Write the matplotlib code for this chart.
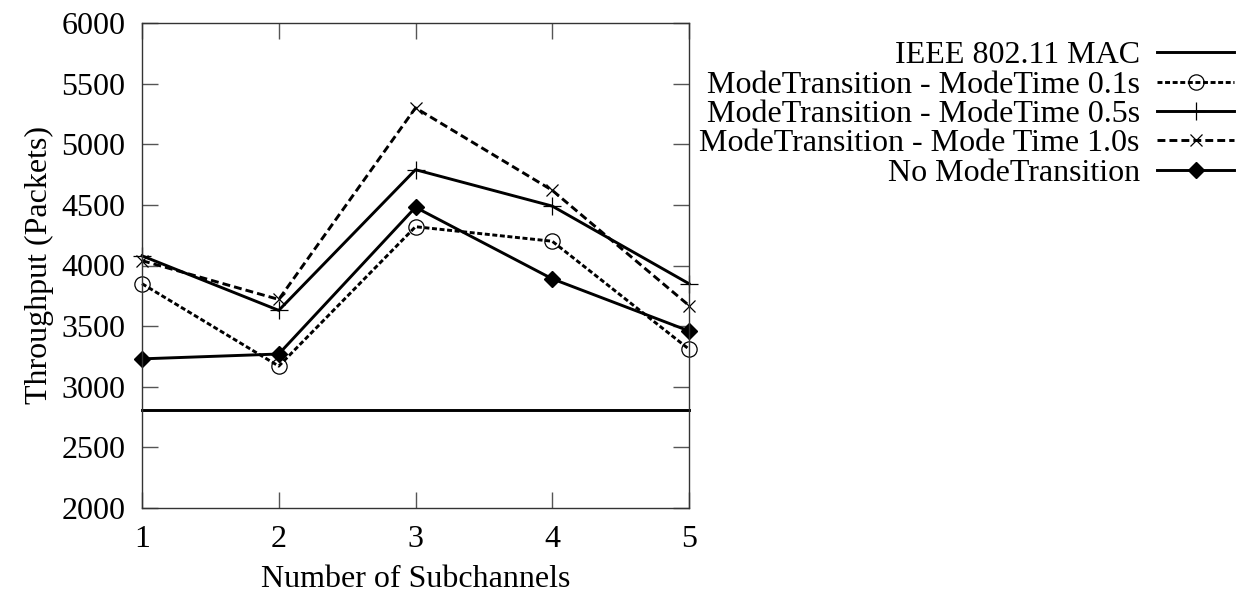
import numpy as np
import matplotlib.pyplot as plt

plt.rcParams['font.family'] = ['Liberation Serif', 'DejaVu Serif']
plt.rcParams['font.size'] = 23

# 子信道数与各方案吞吐量
subchannels = np.array([1, 2, 3, 4, 5])
ieee_mac = np.array([2810, 2810, 2810, 2810, 2810])
mt_01 = np.array([3850, 3170, 4320, 4200, 3310])
mt_05 = np.array([4080, 3630, 4790, 4490, 3850])
mt_10 = np.array([4040, 3720, 5300, 4620, 3670])
no_mt = np.array([3230, 3270, 4480, 3890, 3460])

labels = ['IEEE 802.11 MAC',
          'ModeTransition - ModeTime 0.1s',
          'ModeTransition - ModeTime 0.5s',
          'ModeTransition - Mode Time 1.0s',
          'No ModeTransition']

fig = plt.figure(figsize=(12.43, 5.94), dpi=100)
ax = fig.add_axes([142 / 1243, 1 - 508 / 594, 547 / 1243, 485 / 594])

lw = 2.1
ax.plot(subchannels, ieee_mac, color='black', lw=lw, label=labels[0], clip_on=False)
ax.plot(subchannels, mt_01, color='black', lw=lw, linestyle=(0, (1.7, 0.9)),
        marker='o', markersize=11, markerfacecolor='none', markeredgewidth=0.9,
        label=labels[1], clip_on=False)
ax.plot(subchannels, mt_05, color='black', lw=lw, marker='+', markersize=13,
        markeredgewidth=0.9, label=labels[2], clip_on=False)
ax.plot(subchannels, mt_10, color='black', lw=lw, linestyle=(0, (2.7, 1.4)),
        marker='x', markersize=9, markeredgewidth=0.9, label=labels[3], clip_on=False)
ax.plot(subchannels, no_mt, color='black', lw=lw, marker='D', markersize=8.5,
        label=labels[4], clip_on=False)

ax.set_xlim(1, 5)
ax.set_ylim(2000, 6000)
ax.set_xticks([1, 2, 3, 4, 5])
ax.set_yticks(np.arange(2000, 6001, 500))
ax.tick_params(direction='in', length=11.5, width=1, color='#555555',
               top=True, right=True, labelsize=23, pad=12)
for s in ax.spines.values():
    s.set_linewidth(1)
    s.set_color('#333333')

ax.set_xlabel('Number of Subchannels', fontsize=23, labelpad=8)
ax.set_ylabel('Throughput (Packets)', fontsize=23, labelpad=5)

ax.legend(loc='upper right', bbox_to_anchor=(1234 / 1243, 1 - 41 / 594),
          bbox_transform=fig.transFigure, frameon=False, markerfirst=False,
          handlelength=2.4, handletextpad=0.55, labelspacing=0.0,
          borderpad=0, borderaxespad=0, fontsize=23)

fig.savefig('out.png', dpi=100)
